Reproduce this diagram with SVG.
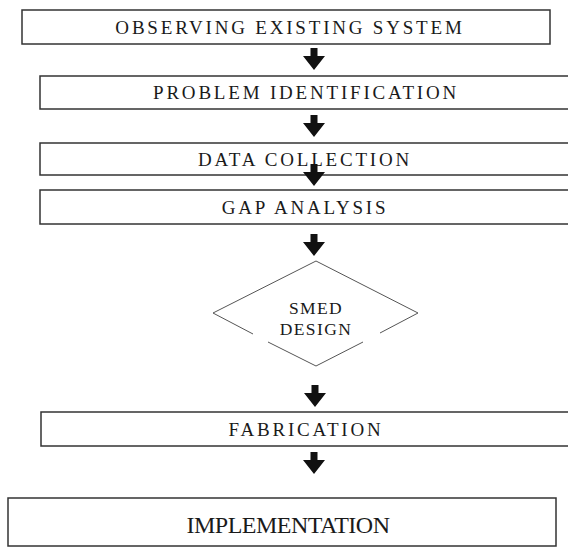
<svg xmlns="http://www.w3.org/2000/svg" width="568" height="548" viewBox="0 0 568 548">
<style>
  .box { fill: #ffffff; stroke: #333333; stroke-width: 1.5; }
  .dia { fill: none; stroke: #555555; stroke-width: 1; }
  .lbl { font-family: "Liberation Serif", "Times New Roman", serif; font-size: 19px; fill: #1a1a1a; text-anchor: middle; letter-spacing: 2.8px; }
  .dtx { font-family: "Liberation Serif", "Times New Roman", serif; font-size: 17.5px; fill: #1a1a1a; text-anchor: middle; letter-spacing: 1.4px; }
  .big { font-family: "Liberation Serif", "Times New Roman", serif; font-size: 24px; fill: #1a1a1a; text-anchor: middle; letter-spacing: -0.5px; }
  .arr { fill: #111111; }
</style>
<defs>
  <polygon id="arrow" points="-3.5,0 3.5,0 3.5,8 11,8 0,22 -11,8 -3.5,8"/>
</defs>
<rect width="568" height="548" fill="#ffffff"/>
<g id="n1">
  <rect class="box" x="22" y="10" width="528" height="34"/>
  <text class="lbl" x="290" y="34">OBSERVING EXISTING SYSTEM</text>
</g>
<g id="n2">
  <rect class="box" x="40" y="76" width="540" height="33"/>
  <text class="lbl" x="306" y="99">PROBLEM IDENTIFICATION</text>
</g>
<g id="n3">
  <rect class="box" x="40" y="143" width="540" height="32"/>
  <text class="lbl" x="305" y="165.5">DATA COLLECTION</text>
</g>
<g id="n4">
  <rect class="box" x="40" y="190" width="540" height="34"/>
  <text class="lbl" x="305" y="213.5">GAP ANALYSIS</text>
</g>
<g id="n5">
  <path class="dia" d="M316,261 L418,313 L380,333 M363,342 L316,366 L268,342 M253,334 L213,313 L316,261"/>
  <text class="dtx" x="316" y="314">SMED</text>
  <text class="dtx" x="316" y="335">DESIGN</text>
</g>
<g id="n6">
  <rect class="box" x="41" y="412" width="540" height="34"/>
  <text class="lbl" x="306" y="435.5">FABRICATION</text>
</g>
<g id="n7">
  <rect class="box" x="8" y="498" width="548" height="48"/>
  <text class="big" x="288" y="533">IMPLEMENTATION</text>
</g>
<g id="connectors">
  <use href="#arrow" class="arr" transform="translate(314,48)"/>
  <use href="#arrow" class="arr" transform="translate(314,115)"/>
  <use href="#arrow" class="arr" transform="translate(314,164)"/>
  <use href="#arrow" class="arr" transform="translate(314,234)"/>
  <use href="#arrow" class="arr" transform="translate(315,385)"/>
  <use href="#arrow" class="arr" transform="translate(314,452)"/>
</g>
</svg>
